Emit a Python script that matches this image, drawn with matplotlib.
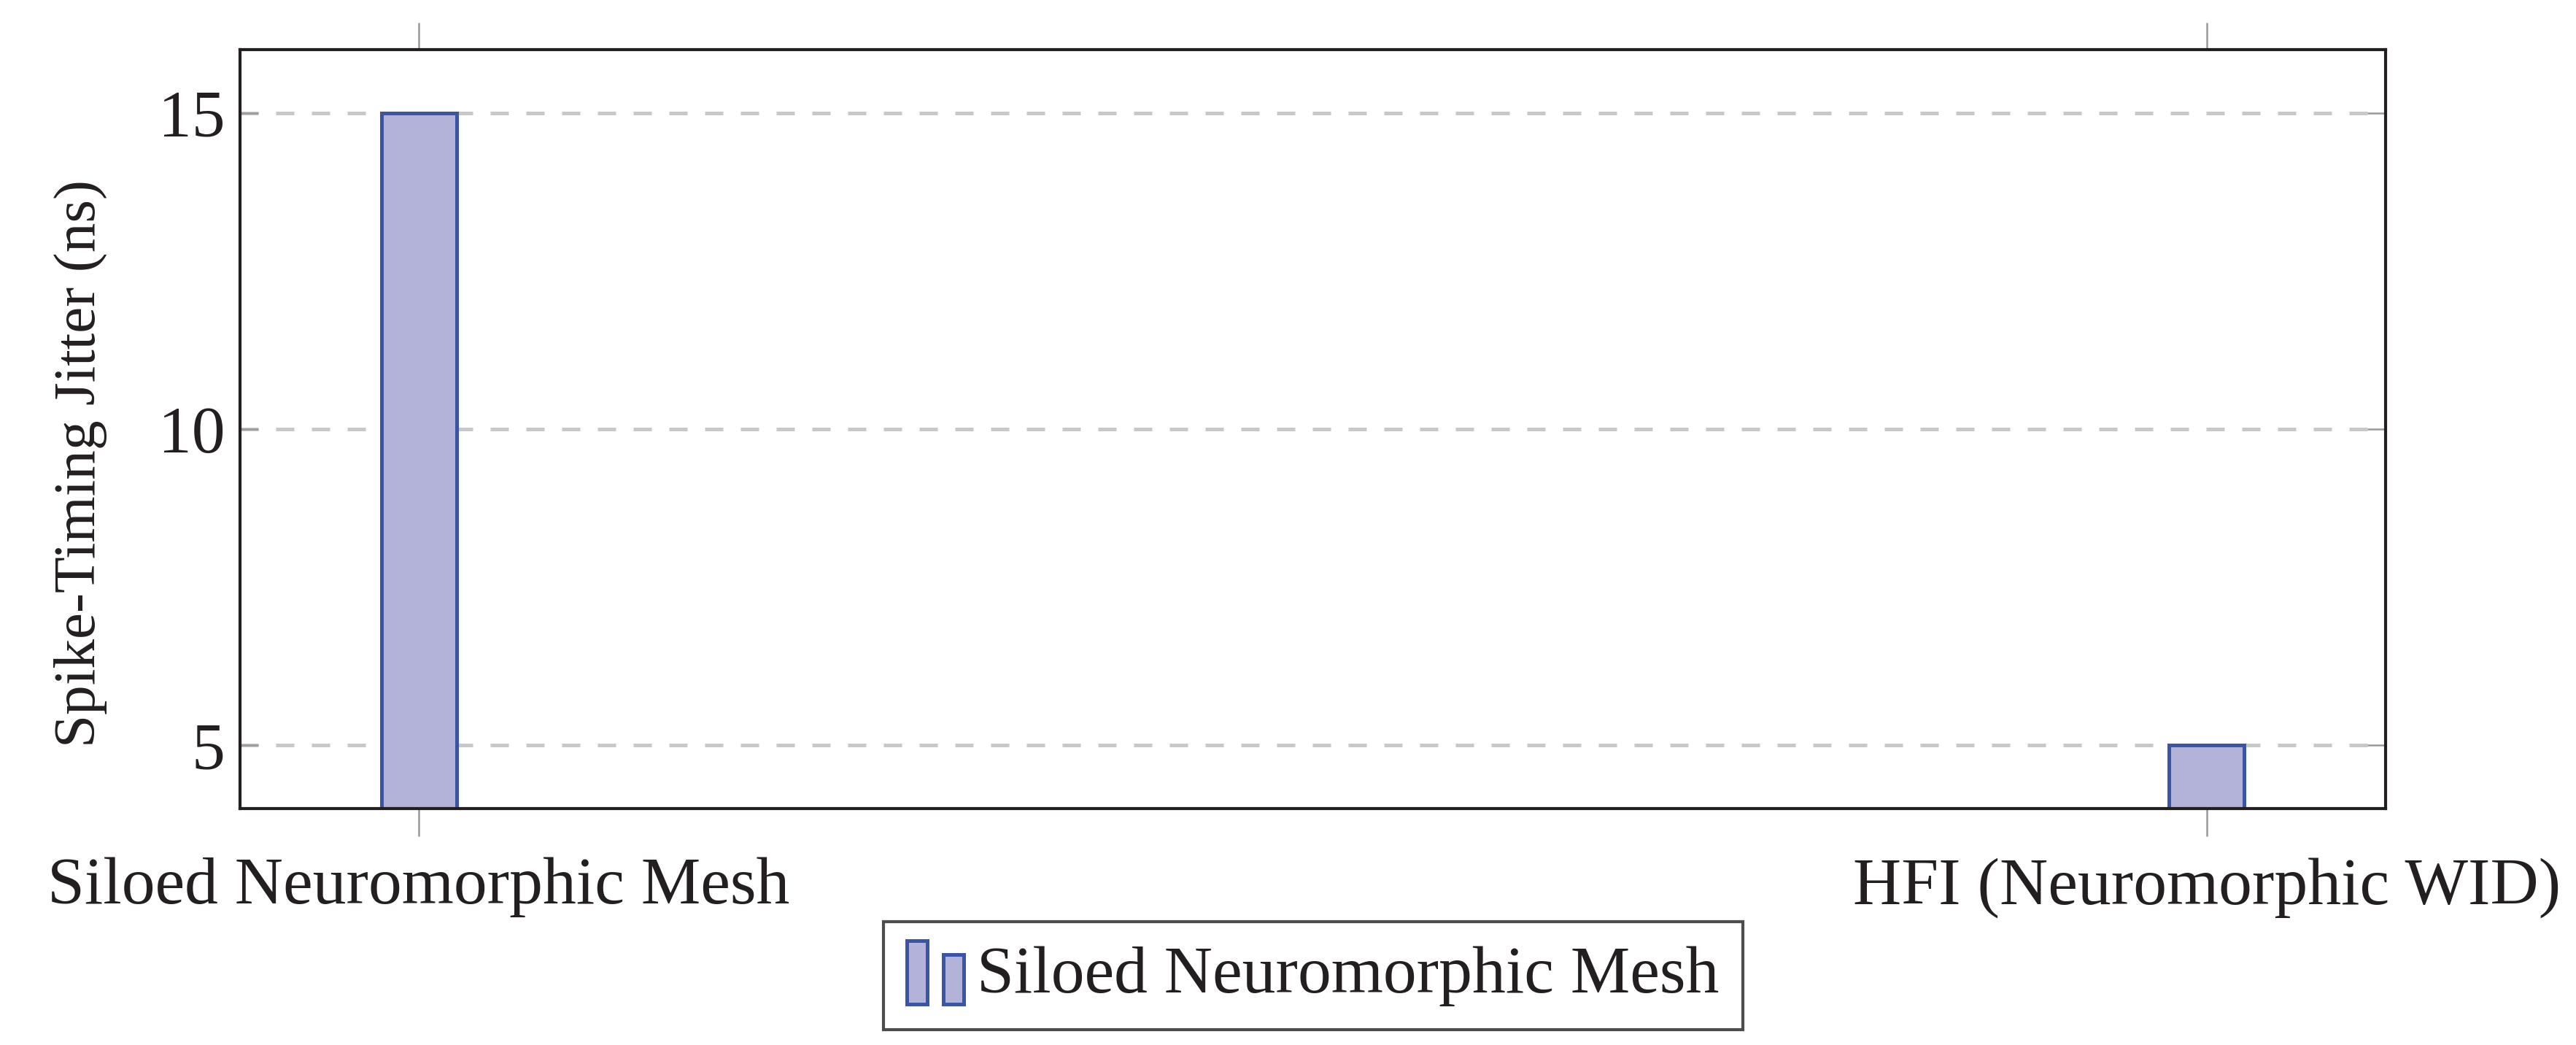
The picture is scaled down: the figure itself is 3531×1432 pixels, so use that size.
import matplotlib
matplotlib.use("Agg")
import matplotlib.pyplot as plt
from matplotlib.patches import Rectangle
from matplotlib.legend_handler import HandlerBase

categories = ["Siloed Neuromorphic Mesh", "HFI (Neuromorphic WID)"]
jitter_ns = [15, 5]
series_label = "Siloed Neuromorphic Mesh"
yticks = [5, 10, 15]

FILL = "#b3b3d9"
EDGE = "#3a55a5"
TXT = "#231f20"

plt.rcParams["font.family"] = ["Liberation Serif", "DejaVu Serif"]
FS = 22

fig = plt.figure(figsize=(3531/300, 1432/300), dpi=300)
ax = fig.add_axes([329/3531, 1-1108/1432, (3270-329)/3531, (1108-68)/1432])

x = list(range(len(categories)))
ax.bar(x, [v - 4 for v in jitter_ns], bottom=4, width=0.042, color=FILL,
       edgecolor=EDGE, linewidth=1.2, zorder=3)

ax.set_xlim(-0.1, 1.1)
ax.set_ylim(4, 16)
ax.set_yticks(yticks)
ax.set_yticklabels([str(t) for t in yticks], fontsize=FS, color=TXT)
ax.set_xticks(x)
ax.set_xticklabels(categories, fontsize=FS, color=TXT)
ax.set_ylabel("Spike-Timing Jitter (ns)", fontsize=19.5, color=TXT)
ax.yaxis.set_label_coords(-0.062, 0.455)

ax.yaxis.grid(True, color="#c8c8c8", linewidth=1.2, dashes=(5, 4.8), zorder=0)
ax.set_axisbelow(True)
ax.tick_params(axis="x", direction="out", top=True, bottom=True, length=9,
               width=0.6, color="#999999", pad=7)
ax.tick_params(axis="y", direction="in", left=True, right=True, length=6,
               width=0.6, color="#999999", pad=5)
for s in ax.spines.values():
    s.set_color(TXT)
    s.set_linewidth(1.0)
    s.set_zorder(4)


class TwoBarHandler(HandlerBase):
    def create_artists(self, legend, orig_handle, xdescent, ydescent, width,
                       height, fontsize, trans):
        bw = width * 0.36
        r1 = Rectangle((-xdescent, -ydescent - height * 0.25), bw, height * 1.35,
                       facecolor=FILL, edgecolor=EDGE, linewidth=1.2, transform=trans)
        r2 = Rectangle((-xdescent + width * 0.64, -ydescent - height * 0.25), bw,
                       height * 1.05, facecolor=FILL, edgecolor=EDGE, linewidth=1.2,
                       transform=trans)
        return [r1, r2]


proxy = Rectangle((0, 0), 1, 1, facecolor=FILL, edgecolor=EDGE)
leg = fig.legend([proxy], [series_label], handler_map={Rectangle: TwoBarHandler()},
                 loc="center", bbox_to_anchor=(1800/3531, 1-1337/1432),
                 fontsize=FS, frameon=True, fancybox=False, handlelength=0.85,
                 handletextpad=0.2, borderpad=0.35, borderaxespad=0)
leg.get_frame().set_edgecolor(TXT)
leg.get_frame().set_linewidth(1.0)
for t in leg.get_texts():
    t.set_color(TXT)

fig.savefig("out.png", dpi=300)
